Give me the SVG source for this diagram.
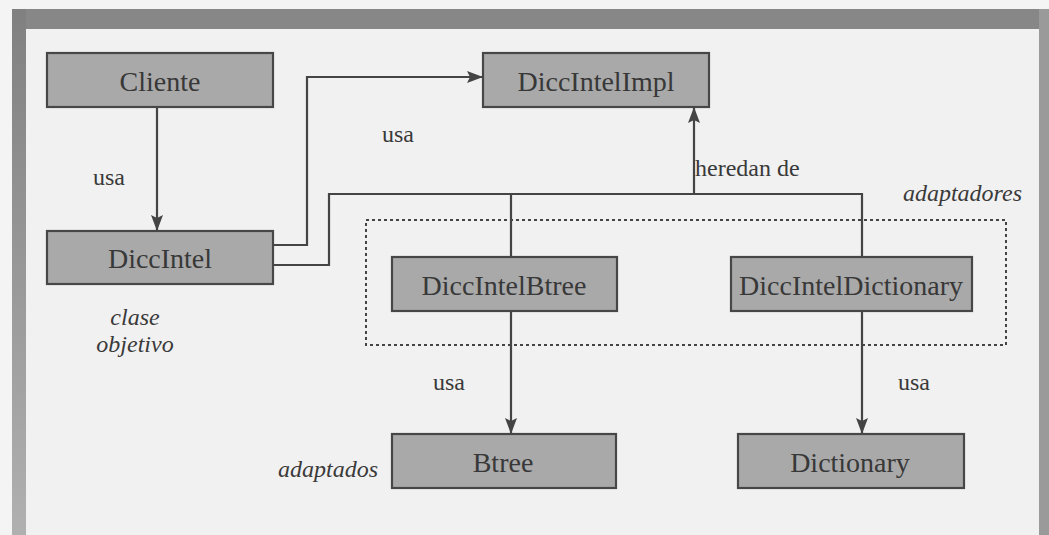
<svg xmlns="http://www.w3.org/2000/svg" width="1049" height="535" viewBox="0 0 1049 535">
<style>
.box{fill:#a9a9a9;stroke:#474747;stroke-width:2.2}
.lbl{font-family:'Liberation Serif','DejaVu Serif',serif;font-size:28px;fill:#383838;text-anchor:middle}
.t{font-family:'Liberation Serif','DejaVu Serif',serif;font-size:24px;fill:#3a3a3a}
.it{font-style:italic}
.ln{fill:none;stroke:#444;stroke-width:2.2}
</style>
<defs>
<marker id="ah" markerUnits="userSpaceOnUse" markerWidth="18" markerHeight="14" refX="16" refY="6" orient="auto">
<path d="M0,0 L16,6 L0,12 L3,6 z" fill="#444"/>
</marker>
<linearGradient id="lbar" x1="0" y1="0" x2="0" y2="1">
<stop offset="0" stop-color="#808080"/>
<stop offset="1" stop-color="#b0b0b0"/>
</linearGradient>
</defs>
<rect x="0" y="0" width="1049" height="535" fill="#f4f4f4"/>
<rect x="26" y="29" width="1013" height="506" fill="#f1f1f1"/>
<rect x="12" y="9" width="1037" height="20" fill="#878787"/>
<rect x="12" y="9" width="14" height="526" fill="url(#lbar)"/>
<rect x="1039" y="9" width="10" height="526" fill="#9a9a9a"/>

<rect x="366" y="220" width="640" height="125" fill="none" stroke="#444" stroke-width="2" stroke-dasharray="3,3"/>

<g id="connectors">
<path class="ln" d="M157,107 L157,231" marker-end="url(#ah)"/>
<path class="ln" d="M273,245 L307,245 L307,77 L483,77" marker-end="url(#ah)"/>
<path class="ln" d="M273,265 L329,265 L329,194 L862,194 L862,257"/>
<path class="ln" d="M511,194 L511,257"/>
<path class="ln" d="M694,194 L694,107" marker-end="url(#ah)"/>
<path class="ln" d="M511,311 L511,434" marker-end="url(#ah)"/>
<path class="ln" d="M862,311 L862,434" marker-end="url(#ah)"/>
</g>

<g id="cliente"><rect class="box" x="47" y="53" width="226" height="54"/><text class="lbl" x="160" y="91">Cliente</text></g>
<g id="diccintelimpl"><rect class="box" x="483" y="53" width="226" height="54"/><text class="lbl" x="596" y="91">DiccIntelImpl</text></g>
<g id="diccintel"><rect class="box" x="47" y="231" width="226" height="53"/><text class="lbl" x="160" y="268">DiccIntel</text></g>
<g id="diccintelbtree"><rect class="box" x="392" y="257" width="225" height="54"/><text class="lbl" x="504" y="295">DiccIntelBtree</text></g>
<g id="diccinteldictionary"><rect class="box" x="731" y="257" width="241" height="54"/><text class="lbl" x="851" y="295">DiccIntelDictionary</text></g>
<g id="btree"><rect class="box" x="392" y="434" width="224" height="54"/><text class="lbl" x="503" y="472">Btree</text></g>
<g id="dictionary"><rect class="box" x="738" y="434" width="226" height="54"/><text class="lbl" x="850" y="472">Dictionary</text></g>

<g id="labels">
<text class="t" x="109" y="185" text-anchor="middle">usa</text>
<text class="t" x="398" y="142" text-anchor="middle">usa</text>
<text class="t" x="695" y="176">heredan de</text>
<text class="t it" x="1022" y="201" text-anchor="end">adaptadores</text>
<text class="t it" x="135" y="325" text-anchor="middle">clase</text>
<text class="t it" x="135" y="352" text-anchor="middle">objetivo</text>
<text class="t" x="449" y="390" text-anchor="middle">usa</text>
<text class="t" x="914" y="390" text-anchor="middle">usa</text>
<text class="t it" x="378" y="477" text-anchor="end">adaptados</text>
</g>
</svg>
